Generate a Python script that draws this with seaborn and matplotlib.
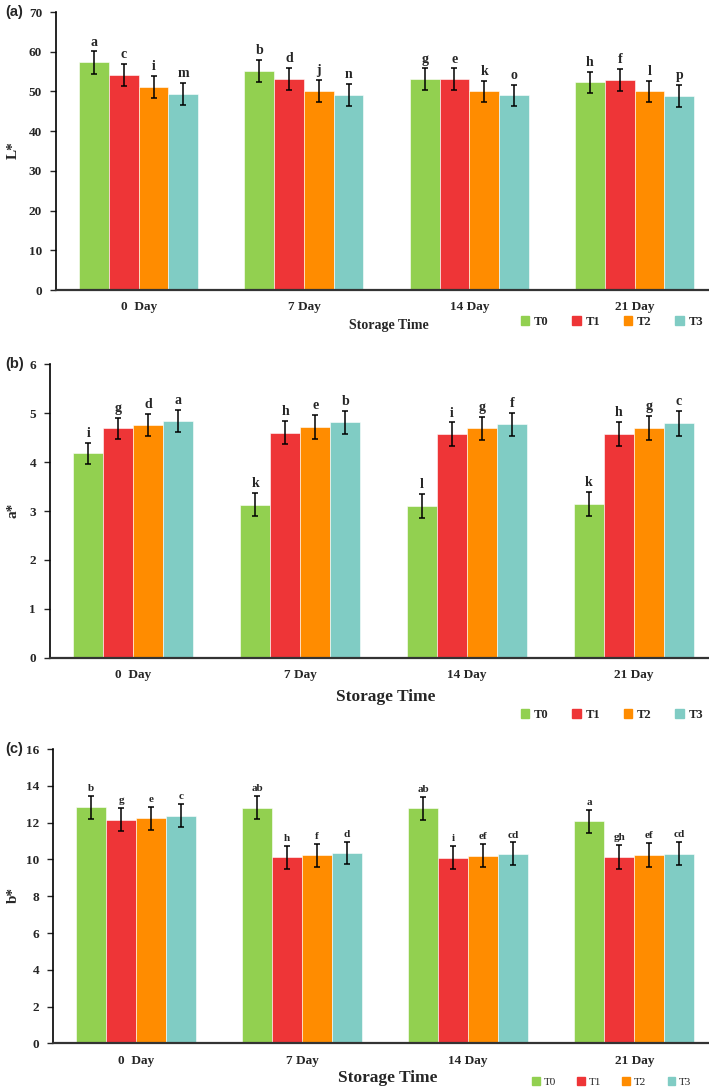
import numpy as np
import pandas as pd
import matplotlib
matplotlib.use("Agg")
import matplotlib.pyplot as plt
import seaborn as sns

days = ["0  Day", "7 Day", "14 Day", "21 Day"]
treatments = ["T0", "T1", "T2", "T3"]
colors = ["#92D050", "#EE3537", "#FF8C00", "#80CCC4"]

# L* values [treatment][day]
L_T0 = [57.3, 55.2, 53.1, 52.3]
L_T1 = [54.2, 53.2, 53.1, 52.9]
L_T2 = [51.2, 50.2, 50.0, 50.0]
L_T3 = [49.3, 49.1, 49.0, 48.9]
L_err = [2.8, 2.8, 2.7, 2.7]
L_letters = [["a", "b", "g", "h"], ["c", "d", "e", "f"], ["i", "j", "k", "l"], ["m", "n", "o", "p"]]

# a* values
a_T0 = [4.18, 3.13, 3.10, 3.14]
a_T1 = [4.69, 4.60, 4.57, 4.57]
a_T2 = [4.76, 4.72, 4.69, 4.70]
a_T3 = [4.84, 4.81, 4.77, 4.79]
a_err = [0.22, 0.24, 0.24, 0.25]
a_letters = [["i", "k", "l", "k"], ["g", "h", "i", "h"], ["d", "e", "g", "g"], ["a", "b", "f", "c"]]

# b* values
b_T0 = [12.84, 12.82, 12.78, 12.06]
b_T1 = [12.15, 10.12, 10.10, 10.12]
b_T2 = [12.24, 10.22, 10.20, 10.22]
b_T3 = [12.37, 10.35, 10.30, 10.32]
b_err = [0.63, 0.62, 0.62, 0.65]
b_letters = [["b", "ab", "ab", "a"], ["g", "h", "i", "gh"], ["e", "f", "ef", "ef"], ["c", "d", "cd", "cd"]]

serif = "Liberation Serif"

fig = plt.figure(figsize=(7.09, 10.91), dpi=100)
sns.set_style("white")
plt.rcParams["font.family"] = [serif, "DejaVu Serif"]

panels = [
    dict(vals=[L_T0, L_T1, L_T2, L_T3], err=L_err, letters=L_letters, ylabel="L*",
         ylim=(0, 70), yticks=np.arange(0, 71, 10), rect=[56/709, 1-290/1091, 1-56/709, 278/1091],
         tag="(a)", tagy=1-12/1091, xlab_y=-0.126, xlab_size=10, leg_y=1-322/1091, leg_bold=True,
         leg_size=9, letter_size=10, tick_size=9.5, ylab_y=1-150/1091),
    dict(vals=[a_T0, a_T1, a_T2, a_T3], err=a_err, letters=a_letters, ylabel="a*",
         ylim=(0, 6), yticks=np.arange(0, 7, 1), rect=[50/709, 1-657.7/1091, 1-50/709, 293.4/1091],
         tag="(b)", tagy=1-364/1091, xlab_y=-0.134, xlab_size=12.5, leg_y=1-715/1091, leg_bold=True,
         leg_size=9, letter_size=10, tick_size=9.5, ylab_y=1-510/1091),
    dict(vals=[b_T0, b_T1, b_T2, b_T3], err=b_err, letters=b_letters, ylabel="b*",
         ylim=(0, 16), yticks=np.arange(0, 17, 2), rect=[53/709, 1-1043.4/1091, 1-53/709, 294.4/1091],
         tag="(c)", tagy=1-749/1091, xlab_y=-0.118, xlab_size=12.5, leg_y=1-1082/1091, leg_bold=False,
         leg_size=8, letter_size=8, tick_size=9.5, ylab_y=1-895/1091),
]

for p in panels:
    ax = fig.add_axes(p["rect"])
    rows = []
    for ti, t in enumerate(treatments):
        for di, d in enumerate(days):
            rows.append(dict(Day=d, Treatment=t, Value=p["vals"][ti][di]))
    df = pd.DataFrame(rows)
    sns.barplot(data=df, x="Day", y="Value", hue="Treatment", order=days, hue_order=treatments,
                palette=colors, width=0.72, errorbar=None, ax=ax, edgecolor="white",
                linewidth=0.4, saturation=1)
    bar_containers = list(ax.containers)[:4]
    for ti, cont in enumerate(bar_containers):
        for di, bar in enumerate(cont.patches):
            xc = bar.get_x() + bar.get_width() / 2
            h = bar.get_height()
            e = p["err"][di]
            ax.errorbar(xc, h, yerr=e, fmt="none", ecolor="black", elinewidth=1.1,
                        capsize=2.5, capthick=1.1)
            ax.text(xc, h + e + (p["ylim"][1] * 0.010), p["letters"][ti][di], ha="center",
                    va="bottom", fontsize=p["letter_size"], fontweight="bold", family=serif)
    ax.set_xlim(-0.5, 3.45)
    ax.set_ylim(*p["ylim"])
    ax.set_yticks(p["yticks"])
    ax.set_yticklabels([str(int(v)) for v in p["yticks"]], fontweight="bold", fontsize=p["tick_size"])
    ax.set_xticks(range(4))
    ax.set_xticklabels(days, fontweight="bold", fontsize=p["tick_size"])
    ax.tick_params(axis="y", direction="out", length=4, width=1, left=True, pad=6)
    ax.tick_params(axis="x", direction="in", length=3, width=1, bottom=True, pad=8)
    for s in ["top", "right"]:
        ax.spines[s].set_visible(False)
    ax.spines["left"].set_color("black")
    ax.spines["left"].set_linewidth(1.2)
    ax.spines["bottom"].set_color("#333333")
    ax.spines["bottom"].set_linewidth(1.6)
    ax.set_xlabel("Storage Time", fontweight="bold", fontsize=p["xlab_size"])
    ax.xaxis.set_label_coords(0.51, p["xlab_y"])
    ax.xaxis.label.set_va("center")
    ax.set_ylabel(p["ylabel"], fontweight="bold", fontsize=11)
    ax.yaxis.set_label_coords(13/709, p["ylab_y"], transform=fig.transFigure)
    ax.yaxis.label.set_va("center")
    if ax.get_legend() is not None:
        ax.get_legend().remove()
    handles = [plt.Rectangle((0, 0), 1, 1, color=c) for c in colors]
    fig.legend(handles, treatments, loc="center", bbox_to_anchor=(0.863, p["leg_y"]), ncol=4,
               frameon=False, handlelength=0.7, handleheight=0.7, handletextpad=0.35,
               columnspacing=1.9, prop=dict(family=serif, size=p["leg_size"],
                                            weight="bold" if p["leg_bold"] else "normal"))
    fig.text(0.008, p["tagy"], p["tag"], fontsize=10.5, fontweight="bold", family="Liberation Sans",
             ha="left", va="center")

fig.savefig("out.png", dpi=100)
